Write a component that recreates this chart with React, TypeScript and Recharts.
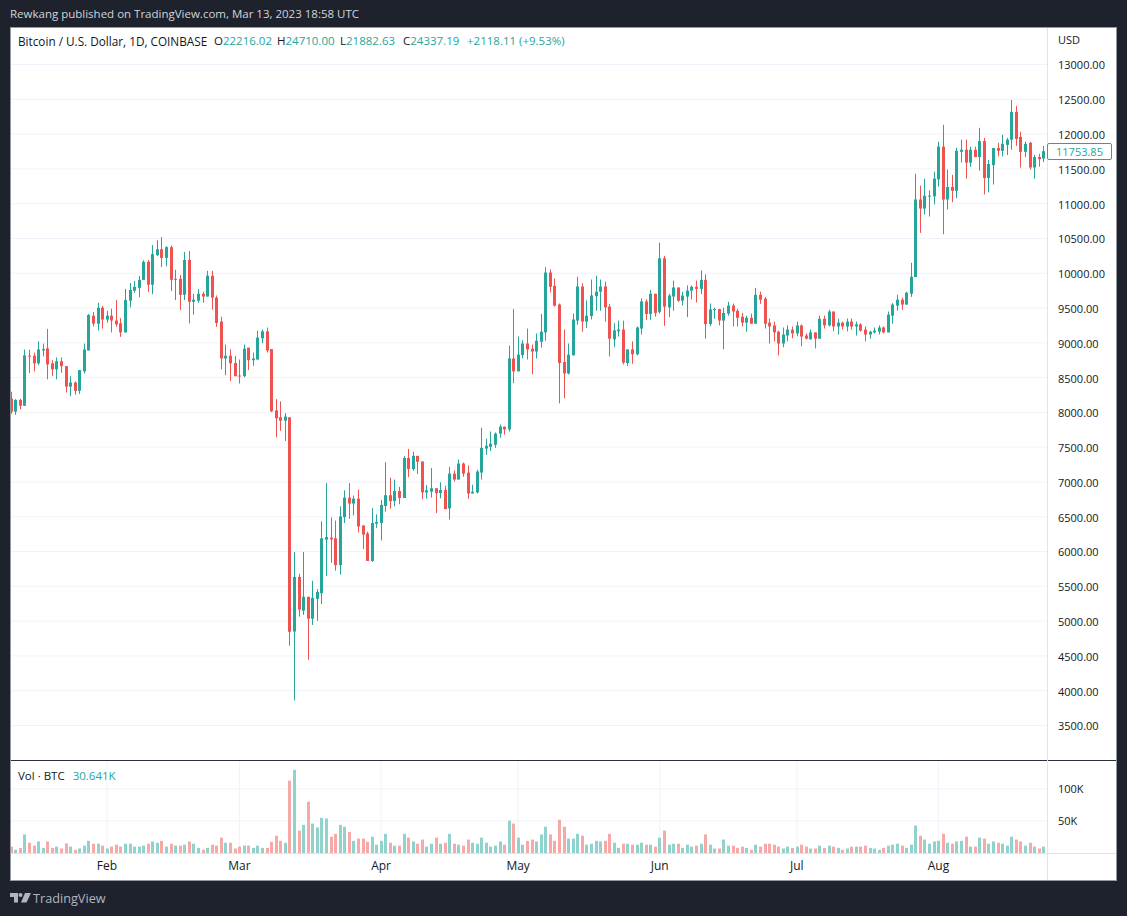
import { Bar, CartesianGrid, ComposedChart, XAxis, YAxis } from "recharts";

const FONT = "'Open Sans', sans-serif";
const UP = "#26a69a";
const DOWN = "#ef5350";
const UP_VOL = "#92d2cc";
const DOWN_VOL = "#f7a9a7";
const GRID = "#f0f3fa";
const TEXT = "#131722";

// one entry per day, Jan 11 2020 onward
const opens = [
  8200, 8010, 8180, 8095, 8815, 8815, 8705, 8890, 8920, 8705,
  8620, 8735, 8665, 8370, 8430, 8310, 8590, 8890, 9390, 9275,
  9505, 9335, 9390, 9320, 9280, 9150, 9605, 9750, 9790, 9905,
  10165, 9835, 10260, 10345, 10220, 10375, 9905, 9920, 9690, 10190,
  9590, 9605, 9705, 9665, 9965, 9650, 9305, 8775, 8815, 8710,
  8530, 8520, 8930, 8750, 8760, 9065, 9165, 8910, 8030, 7930,
  7880, 7930, 4850, 5635, 5150, 5350, 5035, 5320, 5400, 6170,
  6200, 6190, 5805, 6495, 6775, 6690, 6760, 6375, 6260, 5865,
  6400, 6410, 6655, 6810, 6725, 6870, 6770, 7345, 7185, 7375,
  7295, 6850, 6860, 6910, 6840, 6885, 6620, 7120, 7035, 7265,
  7135, 6835, 6850, 7135, 7480, 7505, 7535, 7695, 7795, 7755,
  8775, 8590, 8825, 8990, 8915, 8875, 9015, 9150, 10010, 9820,
  9550, 8725, 8560, 8820, 9320, 9810, 9305, 9385, 9670, 9735,
  9810, 9520, 9050, 9165, 9190, 8710, 8905, 8835, 9205, 9595,
  9415, 9705, 9445, 10215, 9510, 9665, 9795, 9605, 9665, 9750,
  9805, 9775, 9905, 9270, 9470, 9485, 9320, 9420, 9535, 9460,
  9375, 9290, 9360, 9275, 9690, 9635, 9290, 9250, 9160, 8990,
  9105, 9190, 9135, 9250, 9105, 9050, 9150, 9060, 9345, 9250,
  9450, 9235, 9290, 9235, 9305, 9235, 9265, 9190, 9120, 9150,
  9160, 9220, 9150, 9390, 9535, 9620, 9550, 9705, 9945, 11060,
  10930, 11105, 11105, 11350, 11820, 11060, 11240, 11185, 11745, 11775,
  11590, 11775, 11670, 11900, 11370, 11555, 11800, 11760, 11845, 11920,
  12320, 11960, 11745, 11875, 11520, 11670, 11650, 11754,
];
const highs = [
  8298, 8190, 8195, 8905, 8900, 8860, 9020, 8990, 9200, 8750,
  8790, 8790, 8665, 8520, 8445, 8610, 8990, 9415, 9445, 9575,
  9530, 9460, 9490, 9615, 9355, 9775, 9860, 9890, 9960, 10185,
  10190, 10405, 10475, 10520, 10390, 10400, 10050, 9975, 10305, 10320,
  9705, 9775, 9735, 10035, 10035, 9680, 9375, 8975, 8905, 8810,
  8760, 8975, 8930, 8860, 9175, 9190, 9220, 8910, 8190, 8160,
  7990, 7930, 5995, 5680, 5995, 5350, 5580, 5460, 6435, 6985,
  6490, 6445, 6650, 6880, 6985, 6805, 6890, 6375, 6285, 6625,
  6535, 6740, 7285, 7060, 7035, 6930, 7375, 7475, 7435, 7375,
  7295, 6955, 7200, 6910, 6995, 6945, 7220, 7165, 7320, 7280,
  7235, 6960, 7175, 7780, 7620, 7725, 7710, 7825, 7795, 8960,
  9485, 9090, 9035, 9205, 8975, 9135, 9415, 10085, 10055, 9925,
  9565, 9190, 8990, 9420, 9950, 9855, 9610, 9910, 9965, 9910,
  9880, 9560, 9280, 9320, 9320, 8905, 9020, 9235, 9640, 9625,
  9760, 9705, 10440, 10250, 9705, 9895, 9795, 9735, 9825, 9825,
  9895, 10040, 9985, 9565, 9505, 9490, 9505, 9590, 9565, 9490,
  9430, 9390, 9420, 9790, 9735, 9660, 9350, 9305, 9175, 9220,
  9250, 9235, 9305, 9265, 9135, 9190, 9150, 9390, 9390, 9475,
  9450, 9345, 9305, 9350, 9350, 9305, 9280, 9235, 9175, 9220,
  9250, 9235, 9450, 9570, 9690, 9650, 9735, 10150, 11430, 11260,
  11360, 11190, 11460, 11890, 12135, 11490, 11415, 11805, 11920, 11920,
  11820, 11820, 12090, 11945, 11630, 11800, 11875, 11990, 11945, 12490,
  12405, 12035, 11890, 11890, 11700, 11715, 11830, 11790,
];
const lows = [
  7980, 7965, 8045, 8095, 8565, 8590, 8680, 8805, 8475, 8520,
  8475, 8570, 8285, 8235, 8255, 8265, 8560, 8890, 9235, 9175,
  9205, 9290, 9150, 9230, 9085, 9150, 9510, 9720, 9655, 9905,
  9730, 9700, 10245, 10090, 10100, 9745, 9615, 9470, 9615, 9280,
  9405, 9575, 9575, 9665, 9475, 9230, 8620, 8535, 8450, 8520,
  8415, 8505, 8610, 8670, 8760, 8995, 8860, 8005, 7640, 7735,
  7590, 4645, 3860, 5065, 5090, 4445, 4945, 5005, 5245, 5650,
  5840, 5725, 5670, 6410, 6470, 6520, 6275, 6035, 5865, 5850,
  6340, 6160, 6575, 6615, 6650, 6680, 6770, 7070, 7160, 7115,
  6750, 6760, 6775, 6555, 6765, 6610, 6460, 7005, 7035, 7075,
  6760, 6835, 6835, 7035, 7390, 7445, 7490, 7635, 7680, 7725,
  8420, 8590, 8775, 8760, 8550, 8775, 8930, 9030, 9725, 9520,
  8130, 8205, 8545, 8820, 9260, 9160, 9215, 9335, 9460, 9460,
  9305, 8805, 8935, 9090, 8690, 8665, 8700, 8820, 9120, 9330,
  9330, 9375, 9420, 9245, 9370, 9460, 9590, 9535, 9370, 9625,
  9580, 9700, 9060, 9240, 9345, 9250, 8905, 9390, 9235, 9235,
  9235, 9160, 9275, 9275, 9560, 9205, 8990, 9020, 8820, 8935,
  9020, 9065, 9095, 8950, 9050, 9050, 8920, 9060, 9205, 9235,
  9165, 9120, 9190, 9165, 9190, 9105, 9160, 9020, 9060, 9135,
  9120, 9135, 9150, 9275, 9465, 9475, 9550, 9660, 9945, 10580,
  10845, 10815, 10990, 11245, 10560, 10915, 11020, 11080, 11590, 11360,
  11530, 11670, 11475, 11134, 11163, 11275, 11680, 11680, 11700, 11775,
  11830, 11520, 11670, 11490, 11360, 11530, 11600, 11640,
];
const closes = [
  8010, 8180, 8095, 8820, 8805, 8705, 8905, 8910, 8690, 8620,
  8735, 8665, 8370, 8430, 8310, 8610, 8905, 9400, 9275, 9505,
  9335, 9390, 9320, 9265, 9150, 9615, 9760, 9805, 9905, 10165,
  9835, 10275, 10345, 10220, 10375, 9905, 9920, 9690, 10190, 9590,
  9620, 9705, 9665, 9965, 9650, 9285, 8775, 8815, 8705, 8520,
  8520, 8915, 8750, 8775, 9075, 9165, 8890, 8015, 7915, 7880,
  7940, 4847, 5635, 5165, 5350, 5035, 5335, 5420, 6190, 6210,
  6175, 5805, 6505, 6775, 6690, 6760, 6360, 6245, 5865, 6410,
  6425, 6670, 6810, 6725, 6870, 6770, 7345, 7185, 7375, 7290,
  6850, 6880, 6910, 6840, 6885, 6610, 7120, 7035, 7265, 7120,
  6835, 6860, 7150, 7490, 7520, 7550, 7695, 7795, 7755, 8775,
  8590, 8830, 8990, 8905, 8875, 9030, 9160, 10010, 9805, 9535,
  8710, 8560, 8830, 9335, 9810, 9305, 9390, 9680, 9735, 9810,
  9510, 9060, 9180, 9190, 8715, 8905, 8835, 9220, 9595, 9415,
  9705, 9430, 10215, 9520, 9680, 9795, 9605, 9680, 9750, 9805,
  9775, 9905, 9270, 9480, 9485, 9320, 9430, 9535, 9450, 9360,
  9290, 9360, 9275, 9690, 9620, 9275, 9235, 9150, 8990, 9120,
  9190, 9135, 9250, 9090, 9060, 9150, 9060, 9345, 9250, 9450,
  9235, 9290, 9235, 9305, 9235, 9265, 9175, 9120, 9160, 9175,
  9220, 9150, 9405, 9550, 9620, 9550, 9720, 9950, 11060, 10930,
  11115, 11115, 11360, 11820, 11060, 11240, 11185, 11760, 11775, 11590,
  11775, 11670, 11900, 11370, 11570, 11800, 11760, 11860, 11920, 12320,
  11930, 11745, 11860, 11520, 11670, 11640, 11754, 11680,
];
const volumesK = [
  10, 5, 8, 29, 16, 11.5, 18, 8, 18, 8,
  10, 7, 15, 10, 5, 7, 11.5, 19, 14.5, 14.5,
  11.5, 7, 10, 13, 10, 14.5, 14.5, 10, 10, 11.5,
  14.5, 18, 16, 19, 10, 14.5, 11.5, 11.5, 13, 18,
  14.5, 8, 5, 8, 13, 11.5, 24, 16, 16, 7,
  10, 11.5, 11.5, 8, 11.5, 8, 8, 17.5, 27, 19,
  16, 113, 130, 35, 44, 80, 46, 40, 55, 54,
  25.5, 30, 44, 41, 33, 19, 22.5, 22.5, 17.5, 25.5,
  13, 19, 30, 16, 11.5, 11.5, 30, 24, 18, 14.5,
  21, 10, 14.5, 24, 14.5, 16, 30, 14.5, 13, 11.5,
  21, 16, 14.5, 24, 16, 10, 11.5, 18, 13, 50.5,
  46, 24, 13, 19, 21, 18, 29, 41, 29, 19,
  52, 41, 22.5, 22.5, 30, 27, 13, 14.5, 19, 18,
  19, 30, 16, 8, 14.5, 14.5, 13, 13, 16, 13,
  13, 10, 24, 35, 13, 14.5, 14.5, 8, 13, 10,
  11.5, 14.5, 29, 13, 7, 7, 21, 11.5, 11.5, 8,
  10, 8, 5, 13, 10, 14.5, 14.5, 13, 10, 7,
  10, 8, 10, 13, 10, 7, 7, 11.5, 8, 11.5,
  10, 8, 5, 7, 10, 10, 10, 11.5, 8, 7,
  5, 8, 11.5, 13, 14.5, 11.5, 8, 13, 43, 27,
  21, 14.5, 18, 19, 30, 16, 14.5, 18, 19, 25.5,
  10, 10, 24, 22.5, 14.5, 18, 16, 14.5, 11.5, 25.5,
  21, 18, 11.5, 16, 10, 7, 10, 16,
];

const monthTicks = [21, 50, 81, 111, 142, 172, 203];
const monthLabels = ["Feb", "Mar", "Apr", "May", "Jun", "Jul", "Aug"];
const priceTicks = [3500, 4000, 4500, 5000, 5500, 6000, 6500, 7000, 7500, 8000, 8500, 9000, 9500, 10000, 10500, 11000, 11500, 12000, 12500, 13000];
const volumeTicks = [50, 100];
const ohlcLegend = [
  ["O", "22216.02"],
  ["H", "24710.00"],
  ["L", "21882.63"],
  ["C", "24337.19"],
];
const lastPrice = "11753.85";

const xDomain = [0, 226.76];

const candles = opens.map((open, i) => ({
  i,
  open,
  close: closes[i],
  range: [lows[i], highs[i]],
  high: highs[i],
  low: lows[i],
  vol: volumesK[i],
}));

function Candle(props: any) {
  const { x, y, width, height, payload } = props;
  const top = Math.min(y, y + height);
  const h = Math.abs(height);
  const py = (v: number) => top + ((payload.high - v) / (payload.high - payload.low)) * h;
  const color = payload.close >= payload.open ? UP : DOWN;
  const cx = Math.round(x + width / 2 - 0.5);
  const bodyTop = Math.min(py(payload.open), py(payload.close));
  const bodyH = Math.max(1, Math.abs(py(payload.open) - py(payload.close)));
  return (
    <g>
      <rect x={cx} y={top} width={1} height={h} fill={color} />
      <rect x={cx - 1} y={bodyTop} width={3} height={bodyH} fill={color} />
    </g>
  );
}

function VolumeBar(props: any) {
  const { x, y, width, height, payload } = props;
  const cx = Math.round(x + width / 2 - 0.5);
  return (
    <rect
      x={cx - 1}
      y={y}
      width={3}
      height={height}
      fill={payload.close >= payload.open ? UP_VOL : DOWN_VOL}
    />
  );
}

const abs = (left: number, top: number, extra: any = {}) => ({
  position: "absolute" as const,
  left,
  top,
  whiteSpace: "nowrap" as const,
  fontFamily: FONT,
  ...extra,
});

export default function App() {
  return (
    <div style={{ position: "absolute", left: 0, top: 0, width: 1127, height: 916, background: "#1e222d", overflow: "hidden" }}>
      <div style={abs(10, 6, { fontSize: 11.5, lineHeight: "16px", color: "#d1d4dc" })}>
        Rewkang published on TradingView.com, Mar 13, 2023 18:58 UTC
      </div>

      {/* white panel */}
      <div style={{ position: "absolute", left: 10, top: 27, width: 1105, height: 852, background: "#fff", border: "1px solid #9598a1" }} />

      <div style={{ position: "absolute", left: 11, top: 28 }}>
        <ComposedChart width={1105} height={732} data={candles} margin={{ top: 0, right: 0, bottom: 0, left: 0 }} barSize={3}>
          <CartesianGrid stroke={GRID} verticalValues={monthTicks} horizontalValues={priceTicks} />
          <XAxis dataKey="i" type="number" domain={xDomain} allowDataOverflow ticks={monthTicks} tick={false} axisLine={false} tickLine={false} height={0} />
          <YAxis
            orientation="right"
            width={69}
            domain={[3004, 13525]}
            ticks={priceTicks}
            interval={0}
            allowDataOverflow
            axisLine={false}
            tickLine={false}
            tickSize={0}
            tickMargin={11}
            tick={{ fontSize: 11, fontFamily: FONT, fill: TEXT, dy: 1 }}
            tickFormatter={(v: number) => v.toFixed(2)}
          />
          <Bar dataKey="range" shape={<Candle />} isAnimationActive={false} />
        </ComposedChart>
      </div>

      <div style={{ position: "absolute", left: 11, top: 761 }}>
        <ComposedChart width={1105} height={118} data={candles} margin={{ top: 0, right: 0, bottom: 0, left: 0 }} barSize={3}>
          <CartesianGrid stroke={GRID} verticalValues={monthTicks} horizontalValues={volumeTicks} />
          <XAxis
            dataKey="i"
            type="number"
            domain={xDomain}
            allowDataOverflow
            ticks={monthTicks}
            interval={0}
            height={26}
            axisLine={false}
            tickLine={false}
            tickSize={0}
            tickMargin={8}
            tick={{ fontSize: 12, fontFamily: FONT, fill: TEXT }}
            tickFormatter={(v: number) => monthLabels[monthTicks.indexOf(v)]}
          />
          <YAxis
            orientation="right"
            width={69}
            domain={[0, 143.75]}
            ticks={volumeTicks}
            interval={0}
            allowDataOverflow
            axisLine={false}
            tickLine={false}
            tickSize={0}
            tickMargin={11}
            tick={{ fontSize: 11, fontFamily: FONT, fill: TEXT }}
            tickFormatter={(v: number) => `${v}K`}
          />
          <Bar dataKey="vol" shape={<VolumeBar />} isAnimationActive={false} />
        </ComposedChart>
      </div>

      {/* pane separators */}
      <div style={{ position: "absolute", left: 11, top: 760, width: 1105, height: 1, background: "#2a2e39" }} />
      <div style={{ position: "absolute", left: 11, top: 853, width: 1105, height: 1, background: "#e0e3eb" }} />
      <div style={{ position: "absolute", left: 1047, top: 28, width: 1, height: 852, background: "#e0e3eb" }} />

      {/* legends */}
      <div style={abs(18, 33, { fontSize: 11.75, lineHeight: "16px", color: TEXT })}>Bitcoin / U.S. Dollar, 1D, COINBASE</div>
      {ohlcLegend.map(([k, v], n) => (
        <div key={k} style={abs(214 + n * 63, 33, { fontSize: 11.5, lineHeight: "16px", color: TEXT })}>
          {k}
          <span style={{ color: UP }}>{v}</span>
        </div>
      ))}
      <div style={abs(467, 33, { fontSize: 11.5, lineHeight: "16px", color: UP })}>+2118.11 (+9.53%)</div>
      <div style={abs(1058, 32, { fontSize: 11, lineHeight: "16px", color: TEXT })}>USD</div>
      <div style={abs(18, 768, { fontSize: 11.5, lineHeight: "16px", color: TEXT })}>
        Vol · BTC <span style={{ color: UP, marginLeft: 5 }}>30.641K</span>
      </div>

      {/* last price tag */}
      <div style={abs(1047, 143, { width: 63, height: 15, border: `1px solid ${UP}`, borderRadius: 2, background: "#fff", color: UP, fontSize: 11, lineHeight: "15px", textAlign: "center" })}>
        {lastPrice}
      </div>

      {/* footer */}
      <svg style={{ position: "absolute", left: 10, top: 893 }} width={21} height={10} viewBox="0 0 21 10" fill="#b2b5be">
        <path d="M0 0h8v9.5H4V4H0z" />
        <circle cx={10.5} cy={2} r={2} />
        <path d="M15 0h6l-4.5 9.5h-5.5z" />
      </svg>
      <div style={abs(33, 889, { fontSize: 12.7, lineHeight: "18px", color: "#b2b5be" })}>TradingView</div>
    </div>
  );
}
